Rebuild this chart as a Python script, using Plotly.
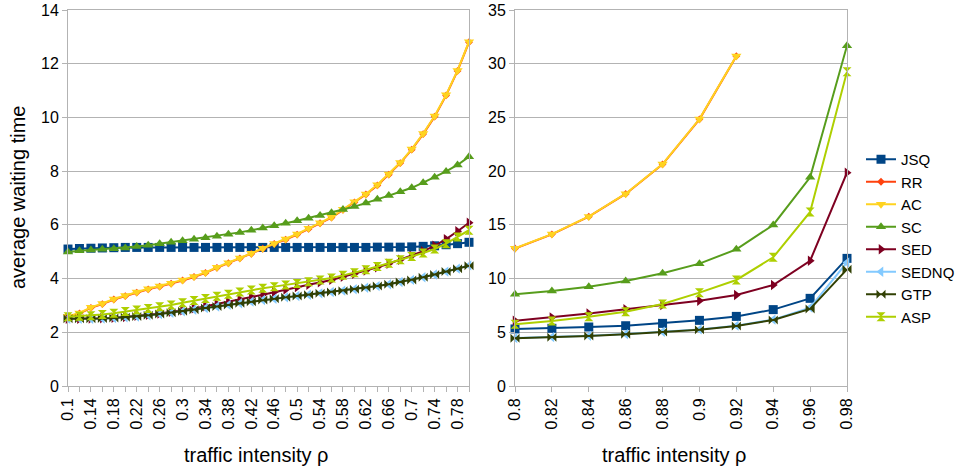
import plotly.graph_objects as go

# traffic intensity, low/medium load range
rho_low = [0.10, 0.12, 0.14, 0.16, 0.18, 0.20, 0.22, 0.24, 0.26, 0.28,
           0.30, 0.32, 0.34, 0.36, 0.38, 0.40, 0.42, 0.44, 0.46, 0.48,
           0.50, 0.52, 0.54, 0.56, 0.58, 0.60, 0.62, 0.64, 0.66, 0.68,
           0.70, 0.72, 0.74, 0.76, 0.78, 0.80]
# traffic intensity, high load range
rho_high = [0.80, 0.82, 0.84, 0.86, 0.88, 0.90, 0.92, 0.94, 0.96, 0.98]

names = ["JSQ", "RR", "AC", "SC", "SED", "SEDNQ", "GTP", "ASP"]

# average waiting time, low/medium load
jsq_low = [5.10, 5.12, 5.13, 5.14, 5.15, 5.16, 5.16, 5.16, 5.16, 5.16,
           5.16, 5.16, 5.16, 5.16, 5.16, 5.16, 5.16, 5.16, 5.16, 5.16,
           5.16, 5.16, 5.16, 5.16, 5.16, 5.16, 5.16, 5.17, 5.17, 5.17,
           5.18, 5.20, 5.22, 5.26, 5.30, 5.35]
rr_low = [2.58, 2.70, 2.91, 3.05, 3.22, 3.35, 3.48, 3.60, 3.70, 3.81,
          3.93, 4.06, 4.21, 4.40, 4.57, 4.75, 4.92, 5.11, 5.29, 5.45,
          5.64, 5.85, 6.06, 6.27, 6.56, 6.84, 7.13, 7.47, 7.87, 8.30,
          8.80, 9.38, 10.03, 10.82, 11.73, 12.80]
ac_low = [2.60, 2.72, 2.93, 3.07, 3.24, 3.37, 3.50, 3.62, 3.72, 3.83,
          3.95, 4.08, 4.23, 4.42, 4.59, 4.77, 4.94, 5.13, 5.31, 5.47,
          5.66, 5.87, 6.08, 6.29, 6.58, 6.86, 7.15, 7.49, 7.89, 8.32,
          8.82, 9.40, 10.05, 10.84, 11.75, 12.82]
sc_low = [4.99, 5.04, 5.06, 5.09, 5.11, 5.14, 5.19, 5.24, 5.30, 5.35,
          5.41, 5.46, 5.52, 5.58, 5.65, 5.72, 5.80, 5.88, 5.97, 6.06,
          6.15, 6.25, 6.35, 6.45, 6.57, 6.68, 6.81, 6.95, 7.09, 7.23,
          7.38, 7.57, 7.77, 7.99, 8.23, 8.54]
sed_low = [2.50, 2.50, 2.51, 2.52, 2.54, 2.57, 2.61, 2.65, 2.70, 2.76,
           2.82, 2.89, 2.97, 3.05, 3.13, 3.22, 3.31, 3.40, 3.50, 3.59,
           3.68, 3.77, 3.86, 3.95, 4.07, 4.18, 4.30, 4.42, 4.55, 4.70,
           4.85, 5.02, 5.22, 5.47, 5.76, 6.08]
sednq_low = [2.50, 2.50, 2.50, 2.51, 2.53, 2.56, 2.59, 2.63, 2.68, 2.73,
             2.78, 2.84, 2.90, 2.96, 3.02, 3.08, 3.14, 3.20, 3.25, 3.30,
             3.35, 3.40, 3.45, 3.50, 3.55, 3.60, 3.66, 3.72, 3.79, 3.87,
             3.95, 4.05, 4.15, 4.26, 4.37, 4.49]
gtp_low = [2.50, 2.50, 2.50, 2.51, 2.53, 2.56, 2.59, 2.63, 2.68, 2.73,
           2.78, 2.84, 2.90, 2.96, 3.02, 3.08, 3.14, 3.20, 3.25, 3.30,
           3.35, 3.40, 3.45, 3.50, 3.55, 3.60, 3.66, 3.72, 3.79, 3.87,
           3.95, 4.05, 4.15, 4.26, 4.37, 4.48]
asp_low = [2.58, 2.60, 2.62, 2.66, 2.71, 2.77, 2.83, 2.89, 2.95, 3.02,
           3.10, 3.18, 3.26, 3.34, 3.42, 3.50, 3.57, 3.64, 3.70, 3.76,
           3.82, 3.88, 3.95, 4.02, 4.12, 4.22, 4.33, 4.45, 4.57, 4.70,
           4.82, 4.95, 5.10, 5.30, 5.55, 5.80]

# average waiting time, high load (RR and AC stop at 0.92)
jsq_high = [5.31, 5.37, 5.49, 5.61, 5.83, 6.11, 6.48, 7.11, 8.16, 11.88]
rr_high = [12.80, 14.12, 15.76, 17.88, 20.63, 24.82, 30.70, None, None, None]
ac_high = [12.82, 14.14, 15.78, 17.90, 20.66, 24.85, 30.72, None, None, None]
sc_high = [8.53, 8.84, 9.24, 9.77, 10.49, 11.39, 12.72, 14.99, 19.43, 31.68]
sed_high = [6.08, 6.39, 6.76, 7.14, 7.54, 7.94, 8.47, 9.40, 11.66, 19.86]
sednq_high = [4.46, 4.55, 4.67, 4.83, 5.05, 5.27, 5.62, 6.18, 7.30, 11.50]
gtp_high = [4.44, 4.53, 4.65, 4.81, 5.03, 5.24, 5.59, 6.14, 7.17, 10.86]
asp_high = [5.74, 6.05, 6.45, 6.92, 7.63, 8.69, 9.87, 11.98, 16.20, 29.26]

low_series = [jsq_low, rr_low, ac_low, sc_low, sed_low, sednq_low, gtp_low, asp_low]
high_series = [jsq_high, rr_high, ac_high, sc_high, sed_high, sednq_high, gtp_high, asp_high]

colors = ["#004586", "#ff420e", "#ffd320", "#579d1c", "#7e0021", "#83caff", "#314004", "#aecf00"]
symbols = ["square", "diamond", "triangle-down", "triangle-up", "triangle-right",
           "triangle-left", "bowtie", "hourglass"]
sizes = [9, 6, 9, 9, 9, 9, 9, 9]

# axis tick labels
low_tick_vals = [0.10, 0.14, 0.18, 0.22, 0.26, 0.30, 0.34, 0.38, 0.42, 0.46,
                 0.50, 0.54, 0.58, 0.62, 0.66, 0.70, 0.74, 0.78]
low_tick_text = ["0.1", "0.14", "0.18", "0.22", "0.26", "0.3", "0.34", "0.38", "0.42",
                 "0.46", "0.5", "0.54", "0.58", "0.62", "0.66", "0.7", "0.74", "0.78"]
high_tick_text = ["0.8", "0.82", "0.84", "0.86", "0.88", "0.9", "0.92", "0.94", "0.96", "0.98"]

FONT = "Liberation Sans, Arial, sans-serif"
GRID = "#b3b3b3"
W, H = 963, 472

fig = go.Figure()
for i, name in enumerate(names):
    common = dict(
        name=name, mode="lines+markers", legendgroup=name, cliponaxis=False,
        line=dict(color=colors[i], width=2),
        marker=dict(symbol=symbols[i], color=colors[i], size=sizes[i],
                    line=dict(width=0)),
    )
    fig.add_trace(go.Scatter(x=rho_low, y=low_series[i], xaxis="x", yaxis="y",
                             showlegend=True, **common))
    fig.add_trace(go.Scatter(x=rho_high, y=high_series[i], xaxis="x2", yaxis="y2",
                             showlegend=False, connectgaps=False, **common))

px_x = lambda p: p / W
px_y = lambda p: 1 - p / H

axis_common = dict(
    showline=True, linecolor=GRID, linewidth=1, mirror=True,
    zeroline=False, automargin=False,
    ticks="outside", ticklen=5, tickcolor=GRID,
    tickfont=dict(family=FONT, size=16, color="#000000"),
)

title_font = dict(family=FONT, size=20, color="#000000")

fig.update_layout(
    width=W, height=H,
    margin=dict(l=0, r=0, t=0, b=0, autoexpand=False),
    paper_bgcolor="white", plot_bgcolor="white",
    font=dict(family=FONT, size=16, color="#000000"),
    xaxis=dict(domain=[px_x(68), px_x(469)], range=[0.1, 0.8], anchor="y",
               showgrid=False,
               tickmode="array", tickvals=low_tick_vals, ticktext=low_tick_text,
               tickangle=-90,
               minor=dict(tick0=0.1, dtick=0.02, ticks="outside", ticklen=5,
                          tickcolor=GRID, showgrid=False),
               **axis_common),
    yaxis=dict(domain=[px_y(386), px_y(10)], range=[0, 14], dtick=2, anchor="x",
               showgrid=True, gridcolor=GRID, gridwidth=1, **axis_common),
    xaxis2=dict(domain=[px_x(515), px_x(847)], range=[0.8, 0.98], anchor="y2",
                showgrid=False,
                tickmode="array", tickvals=rho_high, ticktext=high_tick_text,
                tickangle=-90, **axis_common),
    yaxis2=dict(domain=[px_y(386), px_y(10)], range=[0, 35], dtick=5, anchor="x2",
                showgrid=True, gridcolor=GRID, gridwidth=1, **axis_common),
    legend=dict(x=px_x(861), y=px_y(143), xanchor="left", yanchor="top",
                font=dict(family=FONT, size=15, color="#000000"),
                bgcolor="rgba(0,0,0,0)", tracegroupgap=0, itemwidth=30),
    annotations=[
        dict(text="average waiting time", x=px_x(18), y=px_y(198),
             xanchor="center", yanchor="middle",
             xref="paper", yref="paper", showarrow=False, textangle=-90,
             font=title_font),
        dict(text="traffic intensity ρ", x=px_x(256), y=px_y(455),
             xanchor="center", yanchor="middle",
             xref="paper", yref="paper", showarrow=False, font=title_font),
        dict(text="traffic intensity ρ", x=px_x(674), y=px_y(455),
             xanchor="center", yanchor="middle",
             xref="paper", yref="paper", showarrow=False, font=title_font),
    ],
)

fig.write_html("out.html")
